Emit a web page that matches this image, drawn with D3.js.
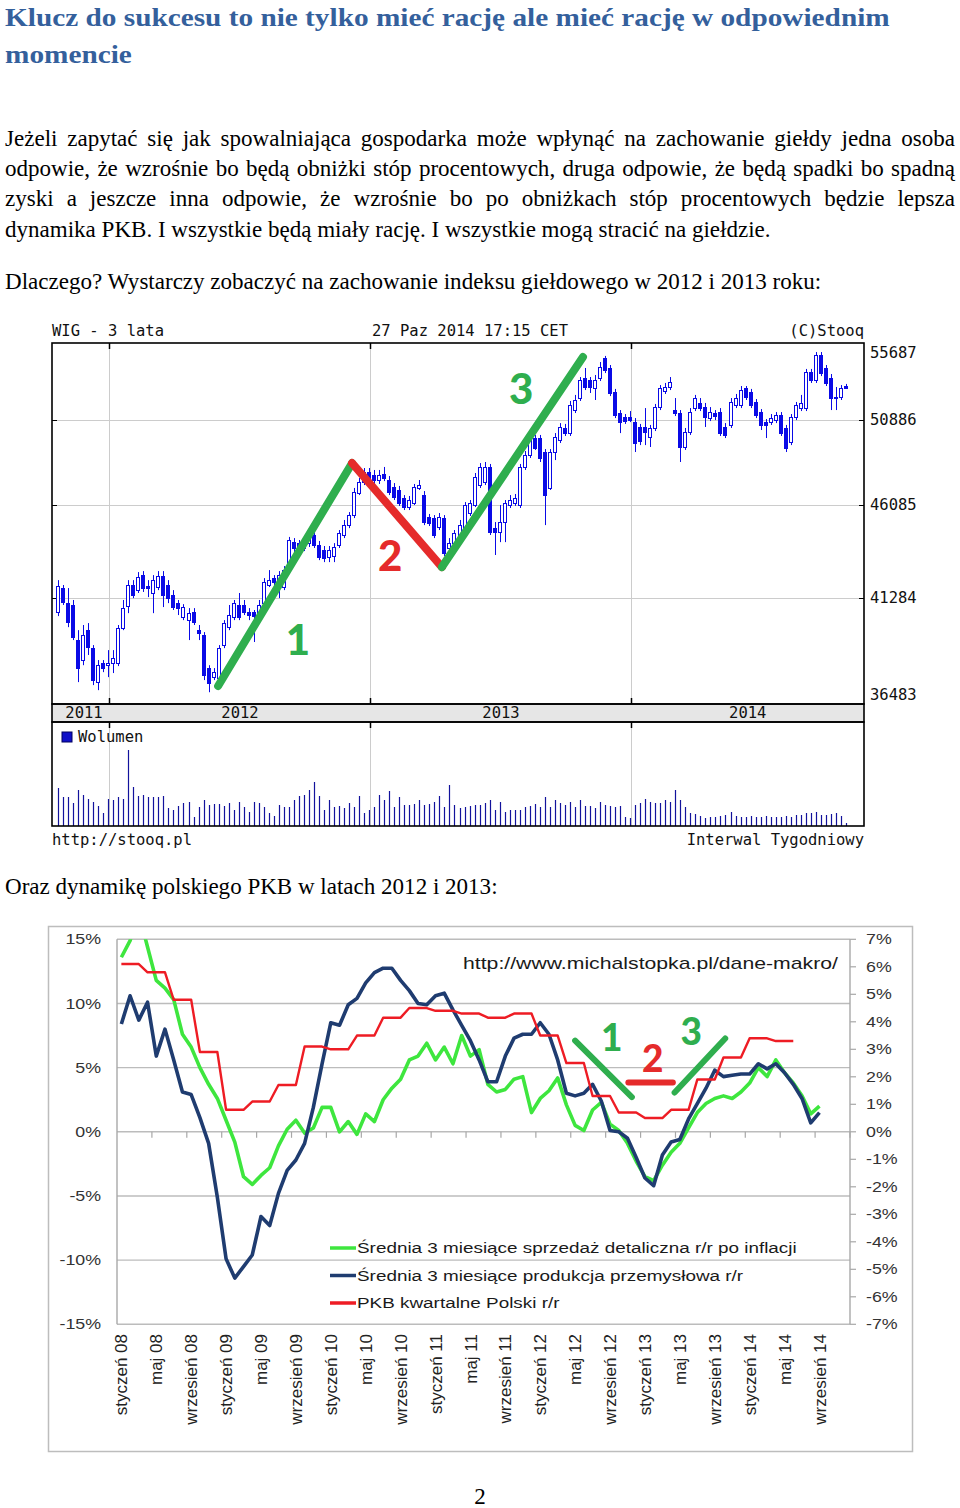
<!DOCTYPE html>
<html><head><meta charset="utf-8">
<script src="https://cdn.jsdelivr.net/npm/d3@7"></script>
<style>html,body{margin:0;padding:0;background:#fff;} svg{display:block;}</style>
</head><body>
<script>
// ===================== DATA =====================
const titleLines = ["Klucz do sukcesu to nie tylko mieć rację ale mieć rację w odpowiednim", "momencie"];
const bodyLines = [
  "Jeżeli zapytać się jak spowalniająca gospodarka może wpłynąć na zachowanie giełdy jedna osoba",
  "odpowie, że wzrośnie bo będą obniżki stóp procentowych, druga odpowie, że będą spadki bo spadną",
  "zyski a jeszcze inna odpowie, że wzrośnie bo po obniżkach stóp procentowych będzie lepsza",
  "dynamika PKB. I wszystkie będą miały rację. I wszystkie mogą stracić na giełdzie."
];
const bodyLine5 = "Dlaczego? Wystarczy zobaczyć na zachowanie indeksu giełdowego w 2012 i 2013 roku:";
const bodyLine6 = "Oraz dynamikę polskiego PKB w latach 2012 i 2013:";
const pageNumber = "2";

// WIG weekly candles (week index 0 = last week of Oct 2011)
const wigOpen = [
 40630,41790,41060,40970,39320,38410,39780,38950,37430,38270,
 38180,38270,38270,39880,40920,41940,41690,42430,41890,41550,
 41840,42380,41940,41450,41060,40390,40250,40630,39780,39550,
 38050,37650,37610,39090,39920,40390,40970,40970,40630,40630,
 40390,41060,41940,42280,41840,41840,42680,44110,44050,43800,
 44050,44470,43950,43690,43340,43390,43950,44470,44990,45520,
 46710,47320,47870,47710,47430,47760,47430,47040,46880,46440,
 45950,46170,46990,46600,45420,45360,44890,45360,43800,44050,
 44470,44830,45630,46060,47150,47320,48160,44830,44620,45150,
 46060,46170,46060,48160,48840,49820,49820,49010,46990,49010,
 49700,50410,50110,51480,52210,53450,53330,52830,53450,54720,
 54080,52580,51300,51060,51060,50760,50470,50470,49880,50410,
 51660,52640,52890,51480,51300,49300,50170,51600,51910,51660,
 51000,51300,51360,50470,50590,51790,51790,52830,52580,51970,
 51360,50760,50760,50880,51180,50410,49590,51060,51600,51600,
 53830,53330,54910,54080,53450,52210,52270,52950];
const wigClose = [
 41890,41110,40160,39460,38050,39550,39000,37520,38180,38050,
 38270,38500,39880,40820,41940,41450,42330,41790,41790,42180,
 42380,41450,41300,40870,40820,40870,40580,40160,39640,37740,
 37390,37870,38950,40110,40490,41060,40390,40630,40490,40440,
 40970,42080,42180,42080,42430,42680,44210,43800,43800,44110,
 44470,43950,43340,43290,43690,43850,44570,44990,45520,46760,
 47320,47870,47540,47430,47710,47540,46770,46490,46170,45950,
 46330,47040,47150,45150,45100,44470,45420,43540,44050,44570,
 44990,46060,46170,47600,48160,48160,44620,44620,45150,46170,
 46330,46440,48160,48840,49700,49240,48670,46600,49010,49880,
 50470,50110,51790,52090,53330,52890,52890,53330,54150,53950,
 52520,51180,50760,50820,50880,49530,49650,50170,50410,51660,
 52830,52890,53200,51300,49300,50170,51360,52210,51600,51060,
 51360,51120,50110,50000,51970,52210,52700,52270,51790,51180,
 50590,50590,51000,51180,50110,49240,51060,51790,51910,53830,
 53330,54910,53760,53140,52210,52270,52830,52830];
const wigHigh = [
 42180,41940,41790,41210,39780,40020,40110,39090,38410,38410,
 38860,38860,40020,41210,42180,42180,42580,42630,42180,42430,
 42630,42630,42180,41690,41210,41010,40820,40820,40020,39690,
 38180,38050,39090,40250,40970,41210,41550,41210,40820,40730,
 41210,42280,42680,42430,42630,42880,44370,44310,44210,44370,
 44730,44680,44160,43900,43900,44050,44730,45260,45680,46990,
 47540,48100,48100,47990,47990,48160,47650,47260,47100,46600,
 46550,47210,47430,46820,45580,45520,45630,45520,44310,44730,
 45260,46220,46330,47820,48380,48440,48330,45150,46060,46330,
 46600,46660,48330,49070,49940,50000,50000,49180,49180,50110,
 50700,50650,52030,52400,53510,54080,53510,53640,54460,54850,
 54270,52770,51480,51240,51420,51000,50650,51600,50590,51850,
 53010,53140,53510,52210,51480,50410,51600,52400,52210,51910,
 51660,51480,51600,50700,52210,52460,52950,52950,52770,52150,
 51540,50940,51240,51360,51360,50590,51240,51970,52400,54020,
 54020,55100,55100,54270,53700,52890,53010,53080];
const wigLow = [
 40440,40970,39920,39320,37430,38180,38640,37300,37080,37870,
 37650,37830,38140,39780,40580,41300,41550,41600,41350,40580,
 41690,40870,41060,40730,40490,40250,39320,40020,39320,37520,
 36990,37520,37520,38950,39780,40250,40250,40490,40250,39230,
 40250,40920,41840,41690,41300,41690,42530,43590,43540,43640,
 43850,43800,43180,43080,43080,43080,43800,44310,44830,45360,
 46600,47150,47320,47210,47210,47370,46600,46330,46010,45790,
 45790,46060,46880,44990,44940,44310,44730,43390,43640,43900,
 44310,44730,45470,45950,46990,47150,44470,43440,44100,44100,
 45900,46010,45900,47990,48670,49130,48440,44990,46880,48550,
 49530,49940,49940,51300,52030,52700,52520,52090,53260,53760,
 52330,51000,50110,50650,50760,49010,49410,49410,49300,50230,
 51480,52460,52700,51120,48440,49130,50000,51420,51420,50470,
 50820,50880,49940,49820,50410,51600,51600,52090,51600,51000,
 50290,49820,50590,50700,49940,49010,49410,50880,51420,51420,
 53140,53140,53570,52950,51480,51480,52090,52770];
const wigVolume = [
 380,290,290,230,360,310,270,240,200,130,
 270,260,290,270,760,390,300,310,290,290,
 290,300,180,160,200,230,240,90,190,260,
 210,220,220,200,230,160,240,190,140,240,
 230,190,130,100,210,190,190,260,300,310,
 360,440,300,160,260,190,200,180,230,190,
 300,130,160,190,310,260,350,190,290,210,
 210,220,260,210,220,240,300,190,410,210,
 180,190,200,210,210,230,260,160,240,140,
 160,160,160,190,200,220,190,290,190,260,
 230,210,240,190,260,200,200,180,240,210,
 200,190,200,90,80,210,230,270,240,230,
 230,260,240,360,260,190,130,120,100,80,
 90,90,100,110,140,100,90,90,100,90,
 90,100,90,90,90,100,90,110,110,130,
 130,140,110,110,120,130,100,30];
const wigTicks = [36483, 41284, 46085, 50886, 55687];
const yearLabels = ["2011", "2012", "2013", "2014"];
const yearStartWeek = [10, 62, 114];
const stooqHeader = ["WIG - 3 lata", "27 Paz 2014 17:15 CET", "(C)Stooq"];
const stooqFooter = ["http://stooq.pl", "Interwal Tygodniowy"];
const volumeLabel = "Wolumen";
// hand-drawn trend annotations on WIG chart: [week index, price]
const wigTrend = [[31.9, 37260], [58.6, 48380], [76.5, 42830], [104.6, 54780]];
const wigTrendLabels = [["1", 47.8, 39320], ["2", 66.2, 43390], ["3", 92.3, 52770]];

// Macro chart, monthly from styczeń 2008 (index 0)
const retailSales = [13.6,14.9,17.0,14.4,11.8,11.2,10.3,7.6,6.6,5.0,
 3.7,2.6,0.9,-0.8,-3.5,-4.1,-3.4,-2.8,-1.1,0.2,
 0.9,-0.1,0.3,1.9,1.9,0.0,0.8,-0.2,1.4,0.8,
 2.5,3.4,4.1,5.6,5.9,6.9,5.6,6.6,5.3,7.5,
 5.9,6.4,3.7,3.1,3.3,4.1,4.3,1.5,2.6,3.2,
 4.2,2.1,0.5,0.1,1.7,2.3,0.6,0.1,-0.9,-2.3,
 -3.5,-3.8,-2.6,-1.6,-0.9,0.3,1.5,2.2,2.6,2.8,
 2.6,3.1,3.8,5.0,4.3,5.6,4.6,3.8,2.8,1.4,2.0];
const industrialProd = [8.4,10.6,8.7,10.1,5.9,8.0,5.6,3.1,2.9,1.1,
 -0.9,-5.1,-9.9,-11.4,-10.5,-9.6,-6.6,-7.3,-4.8,-3.0,
 -2.2,-0.9,1.9,5.3,8.5,8.3,9.9,10.4,11.6,12.4,
 12.75,12.75,11.8,11.0,10.0,9.9,10.6,10.8,9.5,8.3,
 7.1,5.6,3.9,3.9,5.9,7.3,7.6,7.6,8.5,7.6,
 5.6,3.0,2.8,3.0,3.7,2.4,0.1,0.0,-0.5,-2.0,
 -3.6,-4.2,-1.8,-0.8,-0.6,1.0,2.2,3.4,4.8,4.3,
 4.4,4.5,4.5,5.3,4.9,5.3,4.6,3.7,2.6,0.7,1.5];
// GDP y/y, quarterly 2008Q1..2014Q2 (right axis)
const gdpQuarterly = [6.1,5.8,4.8,2.9,0.8,1.1,1.7,3.1,3.0,3.5,4.15,4.5,4.4,4.3,4.15,4.3,3.5,2.5,1.3,0.7,0.5,0.8,1.9,2.7,3.4,3.3];
const leftTicks = [15,10,5,0,-5,-10,-15];
const rightTicks = [7,6,5,4,3,2,1,0,-1,-2,-3,-4,-5,-6,-7];
const monthLabels = ["styczeń 08","maj 08","wrzesień 08","styczeń 09","maj 09","wrzesień 09","styczeń 10","maj 10","wrzesień 10","styczeń 11","maj 11","wrzesień 11","styczeń 12","maj 12","wrzesień 12","styczeń 13","maj 13","wrzesień 13","styczeń 14","maj 14","wrzesień 14"];
const seriesNames = ["Średnia 3 miesiące sprzedaż detaliczna r/r po inflacji","Średnia 3 miesiące produkcja przemysłowa r/r","PKB kwartalne Polski r/r"];
const sourceUrl = "http://www.michalstopka.pl/dane-makro/";
// hand-drawn annotations on macro chart: [month index, % left axis]
const macroMarks = [[[52.0,7.1],[58.5,2.7]], [[58.1,3.85],[63.2,3.85]], [[63.4,3.06],[69.2,7.27]]];
const macroMarkLabels = [["1",56.2,7.3],["2",60.9,5.7],["3",65.3,7.8]];

// ===================== DRAW =====================
const svg = d3.select("body").append("svg").attr("width",960).attr("height",1508);
const SERIF = "'Liberation Serif', 'Times New Roman', serif";
const SANS = "'Liberation Sans', Arial, sans-serif";
const MONO = "'DejaVu Sans Mono', monospace";
const HAND = "Lato, 'Open Sans', sans-serif";
const GREEN_MARK = "#2fae4e", RED_MARK = "#e52b2b";

function textWidth(str, family, size, weight){
  const t = svg.append("text").attr("font-family",family).attr("font-size",size).attr("font-weight",weight||"normal").text(str);
  const w = t.node().getComputedTextLength(); t.remove(); return w;
}

// ---- Title ----
const TFS = 25;
const tSx = 885 / textWidth(titleLines[0], SERIF, TFS, "bold");
titleLines.forEach((s,i)=>svg.append("text").attr("transform",`translate(5,${[26,63][i]}) scale(${tSx},1)`)
  .attr("font-family",SERIF).attr("font-size",TFS).attr("font-weight","bold").attr("fill","#34609c").text(s));

// ---- Body ----
const bFs = 20 * 766 / textWidth(bodyLines[3], SERIF, 20);
function bodyText(str, y, justify){
  const g = svg.append("g").attr("font-family",SERIF).attr("font-size",bFs).attr("fill","#000");
  if(!justify){ g.append("text").attr("x",5).attr("y",y).text(str); return; }
  const words = str.split(" ");
  const ws = words.map(w=>textWidth(w, SERIF, bFs));
  const gap = (955 - 5 - d3.sum(ws)) / (words.length-1);
  let x = 5;
  words.forEach((w,i)=>{ g.append("text").attr("x",x).attr("y",y).text(w); x += ws[i]+gap; });
}
const bodyY = [146,176,206,237];
bodyLines.forEach((s,i)=>bodyText(s, bodyY[i], i<3));
bodyText(bodyLine5, 289, false);
bodyText(bodyLine6, 894, false);
svg.append("text").attr("x",480).attr("y",1504).attr("text-anchor","middle")
  .attr("font-family",SERIF).attr("font-size",bFs).text(pageNumber);

// ---- Stooq chart ----
const S = {left:52, right:864, top:343, bottom:704, strip:722, vol:826};
const wx = d3.scaleLinear().domain([-1.2, 160.6]).range([S.left, S.right]);
const wy = d3.scaleLog().domain([wigTicks[0], wigTicks[wigTicks.length-1]]).range([S.bottom, S.top]);
const vy = d3.scaleLinear().domain([0, 1040]).range([S.vol, S.strip]);
const st = svg.append("g");
const BLUE = "#0a0ae6", GRID = "#cccccc";
st.append("rect").attr("x",S.left).attr("y",S.bottom).attr("width",S.right-S.left).attr("height",S.strip-S.bottom).attr("fill","#e6e6e6");
wigTicks.slice(1,-1).forEach(v=>{
  const y = Math.round(wy(v))+0.5;
  st.append("line").attr("x1",S.left).attr("x2",S.right).attr("y1",y).attr("y2",y).attr("stroke",GRID);
  st.append("line").attr("x1",S.left).attr("x2",S.left+5).attr("y1",y).attr("y2",y).attr("stroke","#000");
  st.append("line").attr("x1",S.right-5).attr("x2",S.right).attr("y1",y).attr("y2",y).attr("stroke","#000");
});
const yearX = yearStartWeek.map(k=>Math.round(wx(k+0.15))+0.5);
yearX.forEach(x=>{
  st.append("line").attr("x1",x).attr("x2",x).attr("y1",S.top).attr("y2",S.bottom).attr("stroke",GRID);
  st.append("line").attr("x1",x).attr("x2",x).attr("y1",S.strip).attr("y2",S.vol).attr("stroke",GRID);
  [[S.top,S.top+6],[S.bottom-6,S.bottom],[S.strip,S.strip+6]].forEach(([a,b])=>
    st.append("line").attr("x1",x).attr("x2",x).attr("y1",a).attr("y2",b).attr("stroke","#000").attr("stroke-width",1.5));
});
// candles
const cg = st.append("g");
wigClose.forEach((c,k)=>{
  const o = wigOpen[k], h = wigHigh[k], l = wigLow[k];
  const cx = Math.round(wx(k));
  cg.append("line").attr("x1",cx+0.5).attr("x2",cx+0.5).attr("y1",wy(h)).attr("y2",wy(l)).attr("stroke",BLUE);
  const yt = Math.round(wy(Math.max(o,c))), yb = Math.round(wy(Math.min(o,c)));
  cg.append("rect").attr("x",cx-1.5).attr("y",yt+0.5).attr("width",3).attr("height",Math.max(1,yb-yt))
    .attr("fill", c>=o ? "#fff" : BLUE).attr("stroke",BLUE);
});
// volume
wigVolume.forEach((v,k)=>{
  const x = Math.round(wx(k))+0.5;
  st.append("line").attr("x1",x).attr("x2",x).attr("y1",vy(0)).attr("y2",vy(v)).attr("stroke","#12129c").attr("stroke-width",1.2);
});
// borders
st.append("rect").attr("x",S.left).attr("y",S.top).attr("width",S.right-S.left).attr("height",S.bottom-S.top).attr("fill","none").attr("stroke","#000").attr("stroke-width",1.6);
st.append("rect").attr("x",S.left).attr("y",S.bottom).attr("width",S.right-S.left).attr("height",S.strip-S.bottom).attr("fill","none").attr("stroke","#000").attr("stroke-width",1.6);
st.append("rect").attr("x",S.left).attr("y",S.strip).attr("width",S.right-S.left).attr("height",S.vol-S.strip).attr("fill","none").attr("stroke","#000").attr("stroke-width",1.6);
// texts
const mono = (x,y,s,anchor)=>st.append("text").attr("x",x).attr("y",y).attr("text-anchor",anchor||"start")
  .attr("font-family",MONO).attr("font-size",15.5).attr("fill","#111").text(s);
mono(S.left, 336, stooqHeader[0]);
mono(470, 336, stooqHeader[1], "middle");
mono(S.right, 336, stooqHeader[2], "end");
wigTicks.forEach(v=>{ const y = Math.min(Math.max(wy(v), S.top+10), S.bottom-9); mono(870, y+5, String(v)); });
const bounds = [S.left, ...yearX, S.right];
yearLabels.forEach((s,i)=>{ const cx = Math.max((bounds[i]+bounds[i+1])/2, S.left+32); mono(cx, 718, s, "middle"); });
st.append("rect").attr("x",62).attr("y",732).attr("width",10).attr("height",10).attr("fill","#1010c8").attr("stroke","#000060");
mono(78, 742, volumeLabel);
mono(S.left, 845, stooqFooter[0]);
mono(S.right, 845, stooqFooter[1], "end");
// trend annotations
const tg = st.append("g").attr("stroke-width",8).attr("stroke-linecap","round").attr("fill","none");
for(let i=0;i<wigTrend.length-1;i++){
  const a = wigTrend[i], b = wigTrend[i+1];
  tg.append("line").attr("x1",wx(a[0])).attr("y1",wy(a[1])).attr("x2",wx(b[0])).attr("y2",wy(b[1]))
    .attr("stroke", i===1 ? RED_MARK : GREEN_MARK);
}
wigTrendLabels.forEach(([t,k,p],i)=>st.append("text").attr("x",wx(k)).attr("y",wy(p)).attr("dy","0.36em")
  .attr("text-anchor","middle").attr("font-family",HAND).attr("font-weight",900).attr("font-size",42)
  .attr("fill", i===1 ? RED_MARK : GREEN_MARK).text(t));

// ---- Macro chart ----
const L = {left:117, right:850, top:939.3, bottom:1324.3};
const mg = svg.append("g");
mg.append("rect").attr("x",48.5).attr("y",926.5).attr("width",864).attr("height",525).attr("fill","#fff").attr("stroke","#bdbdbd").attr("stroke-width",1.5);
const xm = d3.scaleLinear().domain([0,84]).range([L.left, L.right]);
const yL = d3.scaleLinear().domain([-15,15]).range([L.bottom, L.top]);
const yR = d3.scaleLinear().domain([-7,7]).range([L.bottom, L.top]);
const AX = "#a8a8a8";
leftTicks.forEach(v=>{
  mg.append("line").attr("x1",L.left).attr("x2",L.right).attr("y1",yL(v)).attr("y2",yL(v)).attr("stroke","#bcbcbc").attr("stroke-width",1.4);
  mg.append("text").attr("transform",`translate(101,${yL(v)}) scale(1.27,1)`).attr("dy","0.36em").attr("text-anchor","end")
    .attr("font-family",SANS).attr("font-size",14).attr("fill","#333").text(v+"%");
});
mg.append("line").attr("x1",L.left).attr("x2",L.left).attr("y1",L.top).attr("y2",L.bottom).attr("stroke",AX).attr("stroke-width",1.4);
mg.append("line").attr("x1",L.right).attr("x2",L.right).attr("y1",L.top).attr("y2",L.bottom).attr("stroke",AX).attr("stroke-width",1.4);
rightTicks.forEach(v=>{
  mg.append("line").attr("x1",L.right).attr("x2",L.right+6).attr("y1",yR(v)).attr("y2",yR(v)).attr("stroke",AX).attr("stroke-width",1.2);
  mg.append("text").attr("transform",`translate(866,${yR(v)}) scale(1.27,1)`).attr("dy","0.36em")
    .attr("font-family",SANS).attr("font-size",14).attr("fill","#333").text(v+"%");
});
d3.range(1,22).forEach(k=>{
  const x = xm(4*k);
  mg.append("line").attr("x1",x).attr("x2",x).attr("y1",yL(0)).attr("y2",yL(0)+6).attr("stroke",AX).attr("stroke-width",1.2);
});
monthLabels.forEach((s,i)=>{
  mg.append("text").attr("transform",`translate(${xm(4*i+0.5)},1334) rotate(-90)`).attr("dy","0.36em").attr("text-anchor","end")
    .attr("font-family",SANS).attr("font-size",17).attr("fill","#222").text(s);
});
// url
const urlSx = 375 / textWidth(sourceUrl, SANS, 17);
mg.append("text").attr("transform",`translate(463,969) scale(${urlSx},1)`).attr("font-family",SANS).attr("font-size",17).attr("fill","#1a1a1a").text(sourceUrl);
// legend
const legColors = ["#3ee63e","#1f3c70","#ee1c24"];
const legSx = 440 / textWidth(seriesNames[0], SANS, 14.5);
seriesNames.forEach((s,i)=>{
  const y = 1248 + i*27.5;
  mg.append("line").attr("x1",330).attr("x2",356).attr("y1",y).attr("y2",y).attr("stroke",legColors[i]).attr("stroke-width",3.5);
  mg.append("text").attr("transform",`translate(357,${y}) scale(${legSx},1)`).attr("dy","0.36em")
    .attr("font-family",SANS).attr("font-size",14.5).attr("fill","#1a1a1a").text(s);
});
// series
mg.append("clipPath").attr("id","plotclip").append("rect").attr("x",L.left).attr("y",L.top).attr("width",L.right-L.left).attr("height",L.bottom-L.top);
const lines = mg.append("g").attr("clip-path","url(#plotclip)").attr("fill","none").attr("stroke-linejoin","round");
const lineL = d3.line().x((d,i)=>xm(i+0.5)).y(d=>yL(d));
const lineR = d3.line().x((d,i)=>xm(i+0.5)).y(d=>yR(d));
lines.append("path").attr("d",lineL(retailSales)).attr("stroke",legColors[0]).attr("stroke-width",3.6);
lines.append("path").attr("d",lineL(industrialProd)).attr("stroke",legColors[1]).attr("stroke-width",3.6);
const gdpMonthly = gdpQuarterly.flatMap(v=>[v,v,v]);
lines.append("path").attr("d",lineR(gdpMonthly)).attr("stroke",legColors[2]).attr("stroke-width",2.4);
// annotations
macroMarks.forEach(([a,b],i)=>mg.append("line").attr("x1",xm(a[0]+0.5)).attr("y1",yL(a[1])).attr("x2",xm(b[0]+0.5)).attr("y2",yL(b[1]))
  .attr("stroke", i===1 ? RED_MARK : GREEN_MARK).attr("stroke-width",6).attr("stroke-linecap","round"));
macroMarkLabels.forEach(([t,m,v],i)=>mg.append("text").attr("x",xm(m+0.5)).attr("y",yL(v)).attr("dy","0.36em")
  .attr("text-anchor","middle").attr("font-family",HAND).attr("font-weight",900).attr("font-size",37)
  .attr("fill", i===1 ? RED_MARK : GREEN_MARK).text(t));
</script>
</body></html>
